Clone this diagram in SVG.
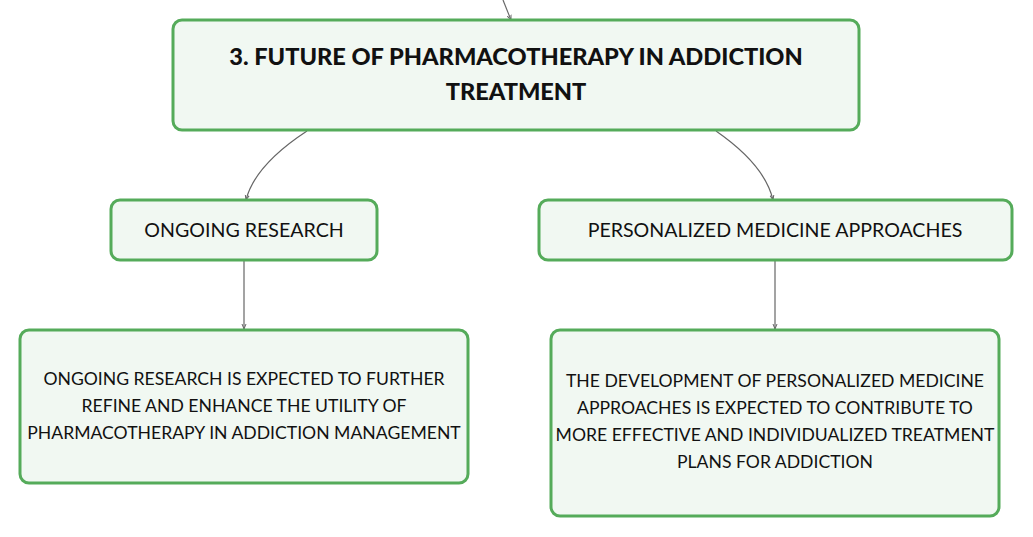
<svg xmlns="http://www.w3.org/2000/svg" width="1033" height="537" viewBox="0 0 1033 537">
<style>
.box{fill:#f1f8f2;stroke:#55ab5a;stroke-width:3}
.t{font-family:Lato,"Open Sans","Liberation Sans",sans-serif;fill:#111;text-anchor:middle}
.title{font-size:23.6px;font-weight:900}
.h{font-size:19.6px}
.b{font-size:17.6px}
.c{fill:none;stroke:#666;stroke-width:1.2}
</style>
<defs>
<marker id="a" markerWidth="6" markerHeight="6" refX="5" refY="3" orient="auto" markerUnits="userSpaceOnUse">
<path d="M0,1 L5,3 L0,5" fill="none" stroke="#666" stroke-width="1"/>
</marker>
</defs>
<rect width="1033" height="537" fill="#fff"/>
<g id="connectors">
<path class="c" d="M503,0 L511,20" marker-end="url(#a)"/>
<path class="c" d="M307,131 Q255,165 246,200" marker-end="url(#a)"/>
<path class="c" d="M716,131 Q765,165 773,200" marker-end="url(#a)"/>
<path class="c" d="M244,261 L244,329" marker-end="url(#a)"/>
<path class="c" d="M775,261 L775,329" marker-end="url(#a)"/>
</g>
<g id="root">
<rect class="box" x="173" y="20" width="686" height="110" rx="9"/>
<text class="t title" x="516" y="65">3. FUTURE OF PHARMACOTHERAPY IN ADDICTION</text>
<text class="t title" x="516" y="100">TREATMENT</text>
</g>
<g id="ongoing">
<rect class="box" x="111" y="200" width="266" height="60" rx="9"/>
<text class="t h" x="244" y="237">ONGOING RESEARCH</text>
</g>
<g id="personalized">
<rect class="box" x="539" y="200" width="473" height="60" rx="9"/>
<text class="t h" x="775" y="237">PERSONALIZED MEDICINE APPROACHES</text>
</g>
<g id="ongoing-detail">
<rect class="box" x="20" y="330" width="448" height="153" rx="9"/>
<text class="t b" x="244" y="385">ONGOING RESEARCH IS EXPECTED TO FURTHER</text>
<text class="t b" x="244" y="412">REFINE AND ENHANCE THE UTILITY OF</text>
<text class="t b" x="244" y="439">PHARMACOTHERAPY IN ADDICTION MANAGEMENT</text>
</g>
<g id="personalized-detail">
<rect class="box" x="551" y="330" width="448" height="186" rx="9"/>
<text class="t b" x="775" y="387">THE DEVELOPMENT OF PERSONALIZED MEDICINE</text>
<text class="t b" x="775" y="414">APPROACHES IS EXPECTED TO CONTRIBUTE TO</text>
<text class="t b" x="775" y="441">MORE EFFECTIVE AND INDIVIDUALIZED TREATMENT</text>
<text class="t b" x="775" y="468">PLANS FOR ADDICTION</text>
</g>
</svg>
